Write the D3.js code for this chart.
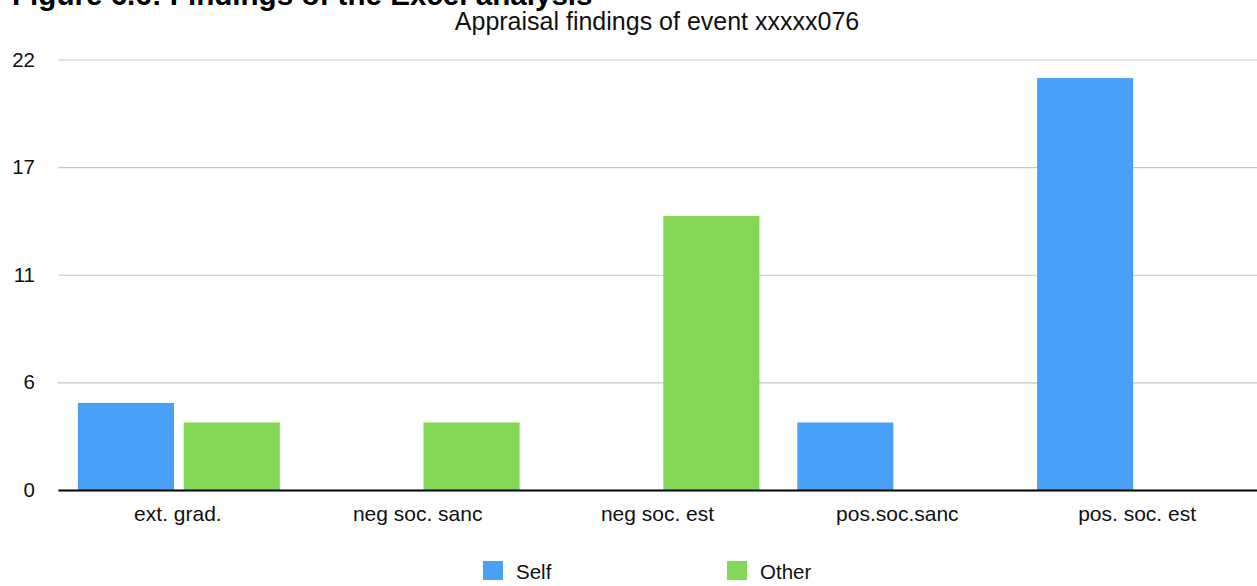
<!DOCTYPE html>
<html>
<head>
<meta charset="utf-8">
<script src="https://cdn.jsdelivr.net/npm/d3@7"></script>
<style>
  html, body { margin: 0; padding: 0; background: #fff; }
  svg { display: block; font-family: "Liberation Sans", Arial, Helvetica, sans-serif; }
</style>
</head>
<body>
<svg id="chart" width="1257" height="586"></svg>
<script>
// Categories and series
const categories = ["ext. grad.", "neg soc. sanc", "neg soc. est", "pos.soc.sanc", "pos. soc. est"];
const seriesNames = ["Self", "Other"];
const selfValues  = [4.45, 0, 0, 3.45, 21.05];
const otherValues = [3.45, 3.45, 14, 0, 0];
const yTicks = [0, 5.5, 11, 16.5, 22];
const colors = ["#49a0f8", "#83d757"];

const W = 1257, H = 586;
const margin = { left: 58, right: 0, top: 59.5, bottom: 96 };
const svg = d3.select("#chart");

const x0 = d3.scaleBand().domain(categories).range([margin.left, W - margin.right]).padding(0);
const bw = x0.bandwidth();
const x1 = d3.scaleBand().domain(seriesNames).range([bw * 0.083, bw * 0.925]).paddingInner(0.092).paddingOuter(0);
const y = d3.scaleLinear().domain([0, 22]).range([H - margin.bottom, margin.top]);

// Heading above the chart (runs off the top edge)
svg.append("text")
  .attr("x", 12).attr("y", 5)
  .attr("font-size", 29.6).attr("font-weight", "bold").attr("fill", "#000")
  .text("Figure 6.6: Findings of the Excel analysis");

// Chart title
svg.append("text")
  .attr("x", 657).attr("y", 30)
  .attr("text-anchor", "middle").attr("font-size", 25).attr("fill", "#111")
  .text("Appraisal findings of event xxxxx076");

// Gridlines + y labels
const yAxis = d3.axisLeft(y).tickValues(yTicks).tickFormat(d3.format(".0f"))
  .tickSize(-(W - margin.left - margin.right)).tickPadding(23);
const gy = svg.append("g").attr("transform", `translate(${margin.left},0)`).call(yAxis);
gy.select(".domain").remove();
gy.selectAll(".tick line").attr("stroke", "#c6c6c6").attr("stroke-width", 1.2);
gy.selectAll(".tick text").attr("font-size", 20.5).attr("fill", "#111")
  .attr("font-family", "Liberation Sans, Arial, sans-serif");

// Bars
const data = categories.map((c, i) => ({ cat: c, vals: [selfValues[i], otherValues[i]] }));
const groups = svg.append("g").selectAll("g").data(data).join("g")
  .attr("transform", d => `translate(${x0(d.cat)},0)`);
groups.selectAll("rect")
  .data(d => d.vals.map((v, j) => ({ key: seriesNames[j], v, j })).filter(e => e.v > 0))
  .join("rect")
  .attr("x", e => x1(e.key))
  .attr("width", x1.bandwidth())
  .attr("y", e => y(e.v))
  .attr("height", e => y(0) - y(e.v))
  .attr("fill", e => colors[e.j]);

// X axis
const xAxis = d3.axisBottom(x0).tickSize(0).tickPadding(16);
const gx = svg.append("g").attr("transform", `translate(0,${y(0)})`).call(xAxis);
gx.select(".domain").attr("stroke", "#000").attr("stroke-width", 2);
gx.selectAll(".tick text").attr("font-size", 21).attr("fill", "#111")
  .attr("font-family", "Liberation Sans, Arial, sans-serif");

// Legend
const legendX = [483, 727];
const lg = svg.append("g").selectAll("g").data(seriesNames).join("g")
  .attr("transform", (d, i) => `translate(${legendX[i]},561)`);
lg.append("rect").attr("width", 20).attr("height", 19).attr("fill", (d, i) => colors[i]);
lg.append("text").attr("x", 33).attr("y", 18).attr("font-size", 20.5).attr("fill", "#111").text(d => d);
</script>
</body>
</html>
